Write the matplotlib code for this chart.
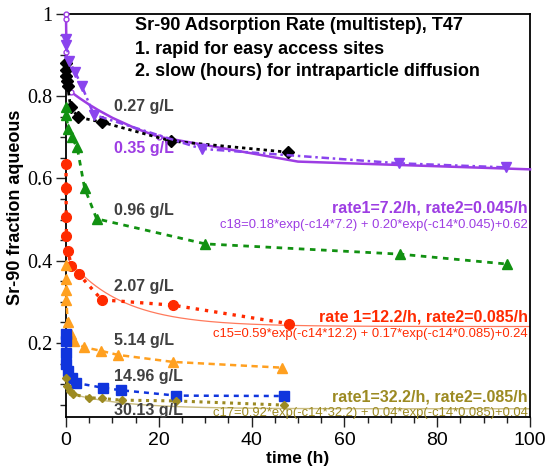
import numpy as np
import matplotlib
matplotlib.use("Agg")
import matplotlib.pyplot as plt
from matplotlib.ticker import MultipleLocator, FuncFormatter

# ---- measured fraction of Sr-90 remaining in solution ----
t_035 = [0.05, 0.1, 0.7, 1.9, 3.4, 6.0, 29.3, 71.7, 94.8]
y_035 = [0.94, 0.925, 0.885, 0.86, 0.825, 0.755, 0.672, 0.637, 0.627]

t_027 = [0.0, 0.05, 0.1, 0.2, 0.35, 1.0, 2.6, 7.7, 22.7, 47.8]
y_027 = [0.88, 0.865, 0.85, 0.837, 0.824, 0.774, 0.749, 0.737, 0.691, 0.664]

t_096 = [0.0, 0.02, 0.5, 1.2, 2.4, 4.0, 6.6, 30.0, 72.0, 95.0]
y_096 = [0.774, 0.754, 0.721, 0.70, 0.676, 0.577, 0.502, 0.441, 0.416, 0.392]

t_207 = [0.0, 0.02, 0.05, 0.1, 0.45, 1.1, 2.7, 7.7, 23.0, 48.0]
y_207 = [0.636, 0.577, 0.506, 0.461, 0.424, 0.388, 0.368, 0.305, 0.292, 0.247]

t_514 = [0.0, 0.02, 0.05, 0.1, 0.35, 1.0, 1.8, 3.8, 7.5, 11.2, 23.0, 46.5]
y_514 = [0.39, 0.355, 0.328, 0.304, 0.25, 0.222, 0.204, 0.19, 0.181, 0.171, 0.154, 0.14]

t_1496 = [0.0, 0.02, 0.05, 0.1, 0.5, 1.2, 2.1, 8.0, 11.9, 23.8, 47.0]
y_1496 = [0.221, 0.205, 0.176, 0.148, 0.133, 0.114, 0.103, 0.091, 0.085, 0.072, 0.071]

t_3013 = [0.0, 0.3, 0.9, 1.6, 5.0, 7.7, 12.0, 23.8, 47.0]
y_3013 = [0.115, 0.095, 0.083, 0.075, 0.067, 0.065, 0.061, 0.059, 0.049]

# ---- two-rate fit parameters (fast amplitude, slow amplitude, rates, baseline) ----
fit18_amp = [0.18, 0.20]
fit18_rate = [7.2, 0.045]
fit18_base = 0.62
fit15_amp = [0.59, 0.17]
fit15_rate = [12.2, 0.085]
fit15_base = 0.24
fit17_amp = [0.92, 0.04]
fit17_rate = [32.2, 0.085]
fit17_base = 0.04

fit18_t = [0, 0.01, 0.1, 1, 2, 3, 5, 7, 10, 15, 20, 50, 100]


def two_rate(t, amp, rate, base):
    t = np.asarray(t, dtype=float)
    return amp[0] * np.exp(-t * rate[0]) + amp[1] * np.exp(-t * rate[1]) + base


C_PURPLE = "#9d3de3"
C_BLACK = "#000000"
C_GREEN = "#119111"
C_RED = "#ff2a00"
C_ORANGE = "#ffa020"
C_BLUE = "#1035dd"
C_OLIVE = "#9c8a22"
C_LABEL = "#404040"

plt.rcParams["font.family"] = ["Liberation Sans", "DejaVu Sans"]

W, H = 552, 466
fig = plt.figure(figsize=(W / 100, H / 100), dpi=100)
ax = fig.add_axes([66 / W, 1 - 417 / H, (530 - 66) / W, (417 - 14) / H])

# fitted curves
ft = np.linspace(0.5, 100, 400)
ax.plot(ft, two_rate(ft, fit15_amp, fit15_rate, fit15_base), color="#ff7a5c", lw=0.9, zorder=2)
ax.plot(ft, two_rate(ft, fit17_amp, fit17_rate, fit17_base), color="#c9bc80", lw=1.0, zorder=2)
ax.plot(fit18_t, two_rate(fit18_t, fit18_amp, fit18_rate, fit18_base), color=C_PURPLE, lw=1.8,
        marker="o", ms=3.5, mfc="white", mec=C_PURPLE, mew=1.0, markevery=[0, 1, 2, 3, 10],
        zorder=4, clip_on=False)

# measured data
series = [
    (t_027, y_027, dict(color=C_BLACK, ls=(0, (1.2, 1.4)), lw=2.0, marker="D", ms=6.5)),
    (t_035, y_035, dict(color="#8a44ee", ls=(0, (3, 1.5, 1, 1.5)), lw=1.8, marker="v", ms=7)),
    (t_096, y_096, dict(color=C_GREEN, ls=(0, (2, 2)), lw=2.0, marker="^", ms=7)),
    (t_207, y_207, dict(color=C_RED, ls=(0, (1, 1.8)), lw=2.4, marker="o", ms=7)),
    (t_514, y_514, dict(color=C_ORANGE, ls=(0, (2.5, 1.8)), lw=1.8, marker="^", ms=7)),
    (t_1496, y_1496, dict(color=C_BLUE, ls=(0, (2, 2)), lw=1.8, marker="s", ms=6.5)),
    (t_3013, y_3013, dict(color=C_OLIVE, ls=(0, (1, 1.5)), lw=2.2, marker="D", ms=4.5)),
]
for tt, yy, kw in series:
    ax.plot(tt, yy, zorder=5, clip_on=False, **kw)

ax.set_xlim(0, 100)
ax.set_ylim(0.02, 1.0)

ax.xaxis.set_major_locator(MultipleLocator(20))
ax.xaxis.set_minor_locator(MultipleLocator(5))
ax.yaxis.set_major_locator(MultipleLocator(0.2))
ax.yaxis.set_minor_locator(MultipleLocator(0.05))
ax.yaxis.set_major_formatter(FuncFormatter(lambda v, p: f"{v:g}"))
ax.tick_params(which="both", direction="out", width=1.0, color="#222222")
ax.tick_params(which="major", length=7)
ax.tick_params(which="minor", length=4)
ax.tick_params(axis="y", which="major", pad=2.5)
for lab in ax.get_xticklabels():
    lab.set_fontsize(14)
for lab in ax.get_yticklabels():
    lab.set_fontsize(14.5)
    lab.set_family(["Liberation Serif", "DejaVu Serif"])
for s in ax.spines.values():
    s.set_linewidth(1.3)

ax.set_xlabel("time (h)", fontsize=12.5, fontweight="bold")
ax.set_ylabel("Sr-90 fraction aqueous", fontsize=13, fontweight="bold")
ax.xaxis.set_label_coords(0.5, -0.085)
ax.yaxis.set_label_coords(-0.09, 0.52)


def ftext(x, y, s, **kw):
    fig.text(x / W, 1 - y / H, s, **kw)


# header
for yy, line in zip([26, 49, 71], ["Sr-90 Adsorption Rate (multistep), T47",
                                   "1. rapid for easy access sites",
                                   "2. slow (hours) for intraparticle diffusion"]):
    ftext(135, yy, line, fontsize=13, fontweight="bold", va="center", ha="left")

# concentration labels
conc = [("0.27 g/L", 107, C_LABEL), ("0.35 g/L", 148, C_PURPLE), ("0.96 g/L", 211, C_LABEL),
        ("2.07 g/L", 287, C_LABEL), ("5.14 g/L", 341, C_LABEL), ("14.96 g/L", 376, C_LABEL),
        ("30.13 g/L", 411, C_LABEL)]
for s, yy, c in conc:
    ftext(114, yy, s, fontsize=11.5, fontweight="bold", color=c, va="center", ha="left")

# rate annotations
ftext(528, 208, "rate1=7.2/h, rate2=0.045/h", fontsize=11.5, fontweight="bold",
      color=C_PURPLE, ha="right", va="center")
ftext(528, 225, "c18=0.18*exp(-c14*7.2) + 0.20*exp(-c14*0.045)+0.62", fontsize=9.4,
      color=C_PURPLE, ha="right", va="center")
ftext(528, 317, "rate 1=12.2/h, rate2=0.085/h", fontsize=11.5, fontweight="bold",
      color=C_RED, ha="right", va="center")
ftext(528, 334, "c15=0.59*exp(-c14*12.2) + 0.17*exp(-c14*0.085)+0.24", fontsize=9.4,
      color=C_RED, ha="right", va="center")
ftext(528, 397, "rate1=32.2/h, rate2=.085/h", fontsize=11.5, fontweight="bold",
      color=C_OLIVE, ha="right", va="center")
ftext(528, 413, "c17=0.92*exp(-c14*32.2) + 0.04*exp(-c14*0.085)+0.04", fontsize=9.4,
      color=C_OLIVE, ha="right", va="center")

fig.savefig("out.png", dpi=100)
